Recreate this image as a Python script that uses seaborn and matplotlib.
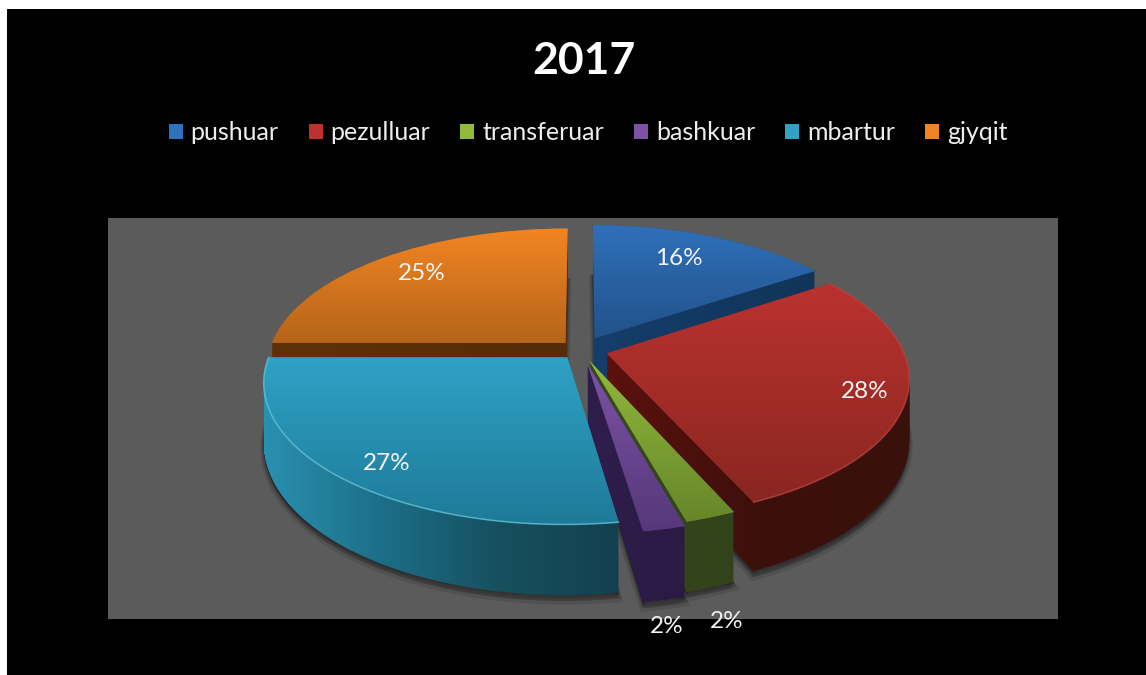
import numpy as np
import seaborn as sns
import matplotlib
matplotlib.use("Agg")
import matplotlib.pyplot as plt
from matplotlib.patches import Patch, PathPatch, Rectangle
from matplotlib.path import Path
from matplotlib.transforms import Transform, IdentityTransform, offset_copy

title = "2017"
categories = ["pushuar", "pezulluar", "transferuar", "bashkuar", "mbartur", "gjyqit"]
values = [15.6, 27.8, 2.3, 1.9, 27.4, 25.0]
explode = [0.10, 0.09, 0.08, 0.10, 0.07, 0.075]

# slice colours: top face (back to front), side face (left to right)
top_colors = [
    ["#2f70ba", "#22528a"],
    ["#bb3230", "#8a2620"],
    ["#92b83c", "#66862a"],
    ["#7d52a6", "#56387a"],
    ["#2fa2c6", "#1f7a98"],
    ["#f28522", "#b5641a"],
]
side_colors = [
    ["#153e6c", "#113458"],
    ["#5c110e", "#3c100c", "#3a100c"],
    ["#384a1a", "#32421a"],
    ["#2f1e4c", "#2a1a44"],
    ["#2a90b0", "#1c6e88", "#16505f", "#134050"],
    ["#5e3208", "#552c08"],
]
rim_colors = [None, "#b8433e", None, None, "#63c3da", None]
label_radius = [0.68, 0.88, 1.47, 1.42, 0.85, 0.75]
label_nudge = [(1, 8), (-5, -3), (-59, -7), (-40, -6), (7, -6), (-2, 4)]

# where the tilted pie sits in the picture
CX, CY, RX, RY, TILT, DEPTH = 581, 350, 296, 136, 0.17, 58
draw_order = [0, 5, 1, 2, 3, 4]


class Tilted(Transform):
    input_dims = output_dims = 2

    def __init__(self, drop=0):
        super().__init__()
        self.drop = drop

    def transform_non_affine(self, xy):
        xy = np.asarray(xy, dtype=float)
        w = 1 + TILT * xy[:, 1]
        return np.column_stack((CX + RX * xy[:, 0] / w, CY + (self.drop - RY * xy[:, 1]) / w))


sns.set_theme(style="white")
plt.rcParams["font.family"] = ["Lato", "DejaVu Sans"]

fig = plt.figure(figsize=(11.46, 6.75), dpi=100, facecolor="white")
ax = fig.add_axes([0, 0, 1, 1])
wedges, _, pct_texts = ax.pie(values, explode=explode, startangle=90, counterclock=False,
                              autopct="%.0f%%", radius=1)
ax.set_aspect("auto")
ax.set_xlim(0, 1146)
ax.set_ylim(675, 0)
ax.autoscale(False)
ax.axis("off")

ax.add_patch(Rectangle((7, 9), 1139, 666, facecolor="black", edgecolor="none", zorder=0))
ax.add_patch(Rectangle((108, 218), 950, 401, facecolor="#5b5b5b", edgecolor="none", zorder=0.5))


def wedge_path(w, drop):
    return (w.get_patch_transform() + Tilted(drop) + ax.transData).transform_path(w.get_path())


def gradient(cols, path, z, horizontal):
    ext = path.get_extents().transformed(ax.transData.inverted())
    n = np.linspace(0, 1, 128)
    grid = n[None, :] if horizontal else n[:, None]
    im = ax.imshow(grid, cmap=sns.blend_palette(cols, as_cmap=True), aspect="auto", zorder=z,
                   extent=(ext.x0, ext.x1, max(ext.y0, ext.y1), min(ext.y0, ext.y1)))
    im.set_clip_path(path, IdentityTransform())


for rank, i in enumerate(draw_order):
    w = wedges[i]
    z = 2 + rank
    # soft shadow under the slice
    for grow, a in [(5, 0.10), (3, 0.14), (1, 0.18)]:
        shadow = wedge_path(w, DEPTH + grow)
        ax.add_patch(PathPatch(shadow, transform=IdentityTransform(), facecolor="black",
                               edgecolor="black", linewidth=grow, alpha=a, zorder=z))
    # side wall from a stack of the same wedge
    stack = Path.make_compound_path(*[wedge_path(w, d) for d in np.linspace(DEPTH, 1, 45)])
    gradient(side_colors[i], stack, z + 0.2, True)
    # top face
    w.set_transform(Tilted(0) + ax.transData)
    w.set_facecolor(top_colors[i][1])
    w.set_edgecolor("none")
    w.set_zorder(z + 0.3)
    gradient(top_colors[i], wedge_path(w, 0), z + 0.4, False)
    if rim_colors[i]:
        t = np.radians(np.linspace(w.theta1, w.theta2, 100))
        rim = np.column_stack((w.center[0] + np.cos(t), w.center[1] + np.sin(t)))
        ax.plot(rim[:, 0], rim[:, 1], color=rim_colors[i], lw=1.1, alpha=0.8,
                transform=Tilted(0) + ax.transData, zorder=z + 0.5)

for i, txt in enumerate(pct_texts):
    w = wedges[i]
    mid = np.radians((w.theta1 + w.theta2) / 2)
    txt.set_position((w.center[0] + label_radius[i] * np.cos(mid),
                      w.center[1] + label_radius[i] * np.sin(mid)))
    txt.set_transform(offset_copy(Tilted(0) + ax.transData, fig=fig, x=label_nudge[i][0],
                                  y=label_nudge[i][1], units="dots"))
    txt.set_color("#f4f4f4")
    txt.set_fontsize(17.5)
    txt.set_zorder(20)

ax.text(584, 61, title, color="white", fontsize=32, fontweight="bold", ha="center", va="center")

handles = [Patch(facecolor=c[0], edgecolor="none") for c in top_colors]
fig.legend(handles, categories, loc="center", bbox_to_anchor=(588 / 1146, 1 - 133 / 675), ncols=6,
           frameon=False, fontsize=18, labelcolor="#eeeeee", handlelength=0.56, handleheight=0.56,
           handletextpad=0.32, columnspacing=1.2)

fig.savefig("out.png", dpi=100)
